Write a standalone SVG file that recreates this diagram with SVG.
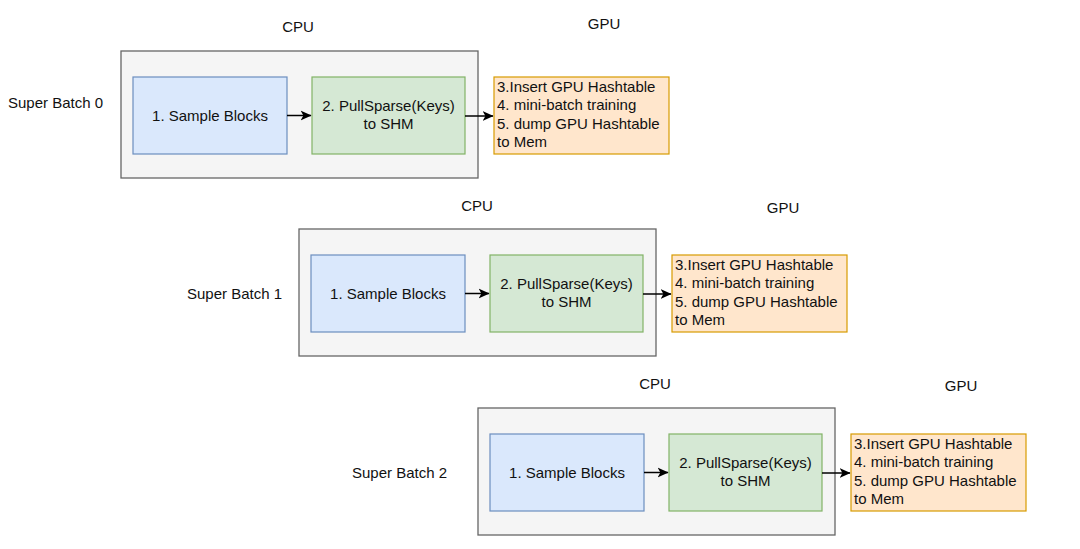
<svg xmlns="http://www.w3.org/2000/svg" width="1080" height="549" viewBox="0 0 1080 549">
<defs>
<style>
text{font-family:"Liberation Sans",Arial,Helvetica,sans-serif;font-size:15px;fill:#111}
.c{text-anchor:middle}
.cont{fill:#f5f5f5;stroke:#666666;stroke-width:1.3}
.blue{fill:#dae8fc;stroke:#6c8ebf;stroke-width:1.2}
.green{fill:#d5e8d4;stroke:#82b366;stroke-width:1.2}
.orange{fill:#ffe6cc;stroke:#d79b00;stroke-width:1.2}
.edge{fill:none;stroke:#000;stroke-width:1.5}
</style>
<marker id="arr" viewBox="0 0 10 10" refX="9.5" refY="5" markerWidth="11" markerHeight="11" markerUnits="userSpaceOnUse" orient="auto">
<path d="M0,0.5 L10,5 L0,9.5 L2.6,5 Z" fill="#000"/>
</marker>
</defs>
<rect width="1080" height="549" fill="#ffffff"/>

<!-- Row 0 -->
<g id="label-cpu-0"><text class="c" x="298" y="31.5">CPU</text></g>
<g id="label-gpu-0"><text class="c" x="604" y="28.5">GPU</text></g>
<g id="label-sb-0"><text x="8" y="107.5">Super Batch 0</text></g>
<g id="cpu-0"><rect class="cont" x="121" y="51" width="357" height="127"/></g>
<g id="sample-0"><rect class="blue" x="133" y="77" width="154" height="77"/><text class="c" x="210" y="121">1. Sample Blocks</text></g>
<g id="pull-0"><rect class="green" x="312" y="77" width="153" height="77"/><text class="c" x="388.5" y="110.5">2. PullSparse(Keys)</text><text class="c" x="388.5" y="129.2">to SHM</text></g>
<g id="gpu-0"><rect class="orange" x="494" y="77" width="175" height="77"/>
<text x="497" y="91.7">3.Insert GPU Hashtable</text>
<text x="497" y="110.2">4. mini-batch training</text>
<text x="497" y="128.7">5. dump GPU Hashtable</text>
<text x="497" y="147.2">to Mem</text></g>

<!-- Row 1 -->
<g id="label-cpu-1"><text class="c" x="477" y="210.5">CPU</text></g>
<g id="label-gpu-1"><text class="c" x="783" y="212.5">GPU</text></g>
<g id="label-sb-1"><text x="187" y="299.3">Super Batch 1</text></g>
<g id="cpu-1"><rect class="cont" x="299" y="229" width="357" height="127"/></g>
<g id="sample-1"><rect class="blue" x="311" y="255" width="154" height="77"/><text class="c" x="388" y="299">1. Sample Blocks</text></g>
<g id="pull-1"><rect class="green" x="490" y="255" width="153" height="77"/><text class="c" x="566.5" y="288.5">2. PullSparse(Keys)</text><text class="c" x="566.5" y="307.2">to SHM</text></g>
<g id="gpu-1"><rect class="orange" x="672" y="255" width="175" height="77"/>
<text x="675" y="269.7">3.Insert GPU Hashtable</text>
<text x="675" y="288.2">4. mini-batch training</text>
<text x="675" y="306.7">5. dump GPU Hashtable</text>
<text x="675" y="325.2">to Mem</text></g>

<!-- Row 2 -->
<g id="label-cpu-2"><text class="c" x="655" y="388.5">CPU</text></g>
<g id="label-gpu-2"><text class="c" x="961" y="390.5">GPU</text></g>
<g id="label-sb-2"><text x="352" y="477.5">Super Batch 2</text></g>
<g id="cpu-2"><rect class="cont" x="478" y="408" width="357" height="127"/></g>
<g id="sample-2"><rect class="blue" x="490" y="434" width="154" height="77"/><text class="c" x="567" y="478">1. Sample Blocks</text></g>
<g id="pull-2"><rect class="green" x="669" y="434" width="153" height="77"/><text class="c" x="745.5" y="467.5">2. PullSparse(Keys)</text><text class="c" x="745.5" y="486.2">to SHM</text></g>
<g id="gpu-2"><rect class="orange" x="851" y="434" width="175" height="77"/>
<text x="854" y="448.7">3.Insert GPU Hashtable</text>
<text x="854" y="467.2">4. mini-batch training</text>
<text x="854" y="485.7">5. dump GPU Hashtable</text>
<text x="854" y="504.2">to Mem</text></g>

<g id="connectors">
<path class="edge" d="M287,115.5 L311,115.5" marker-end="url(#arr)"/>
<path class="edge" d="M465,116 L493,116" marker-end="url(#arr)"/>
<path class="edge" d="M465,293.5 L489,293.5" marker-end="url(#arr)"/>
<path class="edge" d="M643,294 L671,294" marker-end="url(#arr)"/>
<path class="edge" d="M644,472.5 L668,472.5" marker-end="url(#arr)"/>
<path class="edge" d="M822,473 L850,473" marker-end="url(#arr)"/>
</g>
</svg>
